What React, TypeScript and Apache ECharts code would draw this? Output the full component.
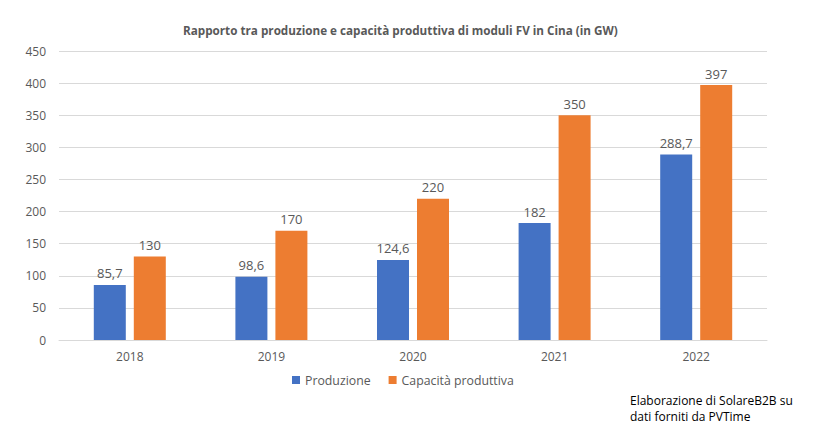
import React, { useEffect, useRef } from "react";
import * as echarts from "echarts";

const categories = ["2018", "2019", "2020", "2021", "2022"];
const produzione = [85.7, 98.6, 124.6, 182, 288.7];
const capacita = [130, 170, 220, 350, 397];
const seriesNames = ["Produzione", "Capacità produttiva"];
const titleText = "Rapporto tra produzione e capacità produttiva di moduli FV in Cina (in GW)";
const noteLines = ["Elaborazione di SolareB2B su", "dati forniti da PVTime"];

const FONT = "'Open Sans', 'Noto Sans', sans-serif";
const GREY = "#595959";

export default function App() {
  const ref = useRef<HTMLDivElement>(null);
  useEffect(() => {
    if (!ref.current) return;
    const chart = echarts.init(ref.current, undefined, { renderer: "svg" });
    const fmt = (p: any) => String(p.value).replace(".", ",");
    chart.setOption({
      animation: false,
      textStyle: { fontFamily: FONT },
      title: {
        text: titleText,
        left: 178,
        top: 19,
        textStyle: { fontFamily: FONT, fontSize: 11.7, fontWeight: "bold", color: GREY },
      },
      grid: { left: 59, right: 73, top: 51, bottom: 84, containLabel: false },
      legend: {
        bottom: 33,
        left: 287,
        itemWidth: 8,
        itemHeight: 8,
        itemGap: 18,
        icon: "rect",
        textStyle: { fontFamily: FONT, fontSize: 12.3, color: GREY },
        data: seriesNames,
      },
      xAxis: {
        type: "category",
        data: categories,
        axisLine: { lineStyle: { color: "#d9d9d9" } },
        axisTick: { show: false },
        axisLabel: { color: GREY, fontSize: 12, fontFamily: FONT, margin: 10 },
      },
      yAxis: {
        type: "value",
        min: 0,
        max: 450,
        interval: 50,
        axisLine: { show: false },
        axisTick: { show: false },
        axisLabel: { color: GREY, fontSize: 12, fontFamily: FONT, margin: 13 },
        splitLine: { lineStyle: { color: "#d9d9d9" } },
      },
      series: [
        {
          name: seriesNames[0],
          type: "bar",
          data: produzione,
          barWidth: 32,
          barGap: "25%",
          itemStyle: { color: "#4472C4" },
          label: { show: true, position: "top", color: GREY, fontSize: 13, fontFamily: FONT, formatter: fmt, distance: 5 },
        },
        {
          name: seriesNames[1],
          type: "bar",
          data: capacita,
          barWidth: 32,
          barGap: "25%",
          itemStyle: { color: "#ED7D31" },
          label: { show: true, position: "top", color: GREY, fontSize: 13, fontFamily: FONT, formatter: fmt, distance: 5 },
        },
      ],
      graphic: [
        {
          type: "text",
          left: 630,
          top: 392,
          style: {
            text: noteLines.join("\n"),
            fontFamily: FONT,
            fontSize: 12,
            lineHeight: 16,
            fill: "#000",
          },
        },
      ],
    });
    return () => chart.dispose();
  }, []);
  return <div ref={ref} style={{ width: 840, height: 424, position: "absolute", left: 0, top: 0, background: "#fff" }} />;
}
